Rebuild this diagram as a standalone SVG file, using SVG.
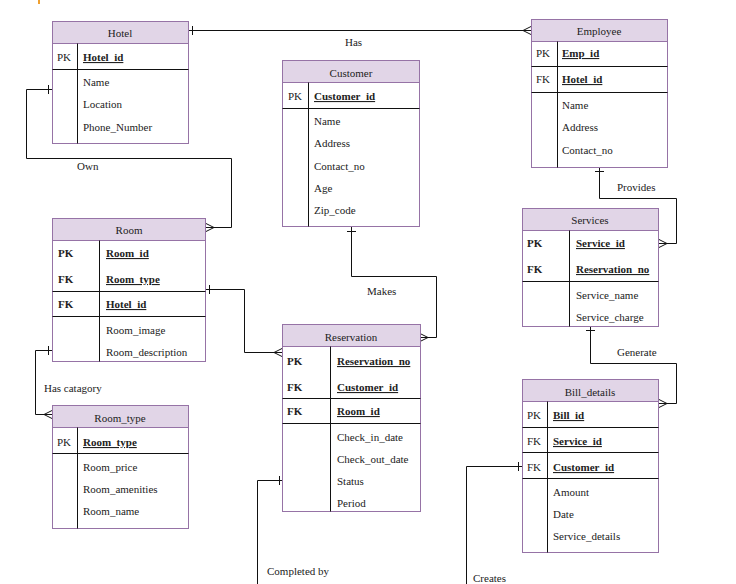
<svg xmlns="http://www.w3.org/2000/svg" width="736" height="584" viewBox="0 0 736 584">
<style>
text{font-family:"Liberation Serif","Times New Roman",serif;font-size:11px;fill:#222}
.box{fill:#fff;stroke:#9673a6;stroke-width:1}
.hd{fill:#e1d5e7;stroke:#9673a6;stroke-width:1}
.sep{stroke:#111;stroke-width:1;fill:none}
.c{text-anchor:middle}
.k{font-weight:bold;text-decoration:underline}
.b{font-weight:bold}
.ln{stroke:#111;stroke-width:1;fill:none}
</style>
<rect x="38" y="0" width="2" height="4" fill="#f0a030"/>
<g id="connectors">
  <!-- Hotel - Employee -->
  <path class="ln" d="M188.5,30.5H531"/>
  <path class="ln" d="M192.5,26V35"/>
  <path class="ln" d="M531,26.5L523,30.5L531,34.5"/>
  <text x="345" y="46">Has</text>
  <!-- Own -->
  <path class="ln" d="M52,89.5H26.5V158.5H231.5V227.5H206"/>
  <path class="ln" d="M48.5,85V94"/>
  <path class="ln" d="M206,223.5L214,227.5L206,231.5"/>
  <text x="77" y="170">Own</text>
  <!-- Room - Reservation -->
  <path class="ln" d="M206,289.5H244.5V352.5H282"/>
  <path class="ln" d="M209.5,285V294"/>
  <path class="ln" d="M282,348.5L274,352.5L282,356.5"/>
  <!-- Makes -->
  <path class="ln" d="M351.5,227V276.5H436.5V337.5H420"/>
  <path class="ln" d="M347,231.5H356"/>
  <path class="ln" d="M420,333.5L428,337.5L420,341.5"/>
  <text x="367" y="295">Makes</text>
  <!-- Provides -->
  <path class="ln" d="M599.5,167V198.5H676.5V243.5H659"/>
  <path class="ln" d="M595,171.5H604"/>
  <path class="ln" d="M659,239.5L667,243.5L659,247.5"/>
  <text x="617" y="191">Provides</text>
  <!-- Generate -->
  <path class="ln" d="M590.5,326V363.5H676.5V403.5H659"/>
  <path class="ln" d="M586,330.5H595"/>
  <path class="ln" d="M659,399.5L667,403.5L659,407.5"/>
  <text x="617" y="356">Generate</text>
  <!-- Creates -->
  <path class="ln" d="M522,466.5H466.5V584"/>
  <path class="ln" d="M518.5,462V471"/>
  <text x="473" y="582">Creates</text>
  <!-- Completed by -->
  <path class="ln" d="M282,480.5H257.5V584"/>
  <path class="ln" d="M279.5,476V485"/>
  <text x="267" y="575">Completed by</text>
  <!-- Has catagory -->
  <path class="ln" d="M52,350.5H35.5V414.5H52"/>
  <path class="ln" d="M48.5,346V355"/>
  <path class="ln" d="M52,410.5L44,414.5L52,418.5"/>
  <text x="44" y="392">Has catagory</text>
</g>
<g id="hotel">
  <rect class="box" x="52.5" y="21.5" width="136" height="122"/>
  <rect class="hd" x="52.5" y="21.5" width="136" height="22"/>
  <path class="sep" d="M52.5,69.5H188.5M77.5,43.5V143.5"/>
  <text class="c" x="120" y="36.5">Hotel</text>
  <text x="57" y="61">PK</text>
  <text class="k" x="83" y="61">Hotel_id</text>
  <text x="83" y="86">Name</text>
  <text x="83" y="108">Location</text>
  <text x="83" y="131">Phone_Number</text>
</g>
<g id="employee">
  <rect class="box" x="531.5" y="19.5" width="136" height="148"/>
  <rect class="hd" x="531.5" y="19.5" width="136" height="22"/>
  <path class="sep" d="M531.5,66.5H667.5M531.5,92.5H667.5M557.5,41.5V167.5"/>
  <text class="c" x="599" y="35">Employee</text>
  <text x="536" y="57">PK</text>
  <text class="k" x="562" y="57">Emp_id</text>
  <text x="536" y="83">FK</text>
  <text class="k" x="562" y="83">Hotel_id</text>
  <text x="562" y="109">Name</text>
  <text x="562" y="131">Address</text>
  <text x="562" y="154">Contact_no</text>
</g>
<g id="customer">
  <rect class="box" x="282.5" y="60.5" width="137" height="166"/>
  <rect class="hd" x="282.5" y="60.5" width="137" height="22"/>
  <path class="sep" d="M282.5,108.5H419.5M308.5,82.5V226.5"/>
  <text class="c" x="351" y="77">Customer</text>
  <text x="288" y="100">PK</text>
  <text class="k" x="314" y="100">Customer_id</text>
  <text x="314" y="125">Name</text>
  <text x="314" y="147">Address</text>
  <text x="314" y="170">Contact_no</text>
  <text x="314" y="192">Age</text>
  <text x="314" y="214">Zip_code</text>
</g>
<g id="room">
  <rect class="box" x="52.5" y="218.5" width="153" height="143"/>
  <rect class="hd" x="52.5" y="218.5" width="153" height="22"/>
  <path class="sep" d="M52.5,291.5H205.5M52.5,316.5H205.5M99.5,240.5V361.5"/>
  <text class="c" x="129" y="234">Room</text>
  <text class="b" x="58" y="257">PK</text>
  <text class="k" x="106" y="257">Room_id</text>
  <text class="b" x="58" y="283">FK</text>
  <text class="k" x="106" y="283">Room_type</text>
  <text class="b" x="58" y="308">FK</text>
  <text class="k" x="106" y="308">Hotel_id</text>
  <text x="106" y="334">Room_image</text>
  <text x="106" y="356">Room_description</text>
</g>
<g id="reservation">
  <rect class="box" x="282.5" y="324.5" width="138" height="187"/>
  <rect class="hd" x="282.5" y="324.5" width="138" height="22"/>
  <path class="sep" d="M282.5,398.5H420.5M282.5,423.5H420.5M330.5,346.5V511.5"/>
  <text class="c" x="351" y="341">Reservation</text>
  <text class="b" x="287" y="365">PK</text>
  <text class="k" x="337" y="365">Reservation_no</text>
  <text class="b" x="287" y="391">FK</text>
  <text class="k" x="337" y="391">Customer_id</text>
  <text class="b" x="287" y="415">FK</text>
  <text class="k" x="337" y="415">Room_id</text>
  <text x="337" y="441">Check_in_date</text>
  <text x="337" y="463">Check_out_date</text>
  <text x="337" y="485">Status</text>
  <text x="337" y="507">Period</text>
</g>
<g id="services">
  <rect class="box" x="522.5" y="208.5" width="136" height="118"/>
  <rect class="hd" x="522.5" y="208.5" width="136" height="22"/>
  <path class="sep" d="M522.5,281.5H658.5M569.5,230.5V326.5"/>
  <text class="c" x="590" y="224">Services</text>
  <text class="b" x="527" y="247">PK</text>
  <text class="k" x="576" y="247">Service_id</text>
  <text class="b" x="527" y="273">FK</text>
  <text class="k" x="576" y="273">Reservation_no</text>
  <text x="576" y="299">Service_name</text>
  <text x="576" y="321">Service_charge</text>
</g>
<g id="bill_details">
  <rect class="box" x="522.5" y="379.5" width="136" height="173"/>
  <rect class="hd" x="522.5" y="379.5" width="136" height="22"/>
  <path class="sep" d="M522.5,427.5H658.5M522.5,452.5H658.5M522.5,478.5H658.5M547.5,401.5V552.5"/>
  <text class="c" x="590" y="396">Bill_details</text>
  <text x="527" y="419">PK</text>
  <text class="k" x="553" y="419">Bill_id</text>
  <text x="527" y="445">FK</text>
  <text class="k" x="553" y="445">Service_id</text>
  <text x="527" y="471">FK</text>
  <text class="k" x="553" y="471">Customer_id</text>
  <text x="553" y="496">Amount</text>
  <text x="553" y="518">Date</text>
  <text x="553" y="540">Service_details</text>
</g>
<g id="room_type">
  <rect class="box" x="52.5" y="405.5" width="136" height="123"/>
  <rect class="hd" x="52.5" y="405.5" width="136" height="22"/>
  <path class="sep" d="M52.5,453.5H188.5M77.5,427.5V528.5"/>
  <text class="c" x="120" y="422">Room_type</text>
  <text x="57" y="446">PK</text>
  <text class="k" x="83" y="446">Room_type</text>
  <text x="83" y="471">Room_price</text>
  <text x="83" y="493">Room_amenities</text>
  <text x="83" y="515">Room_name</text>
</g>
</svg>
